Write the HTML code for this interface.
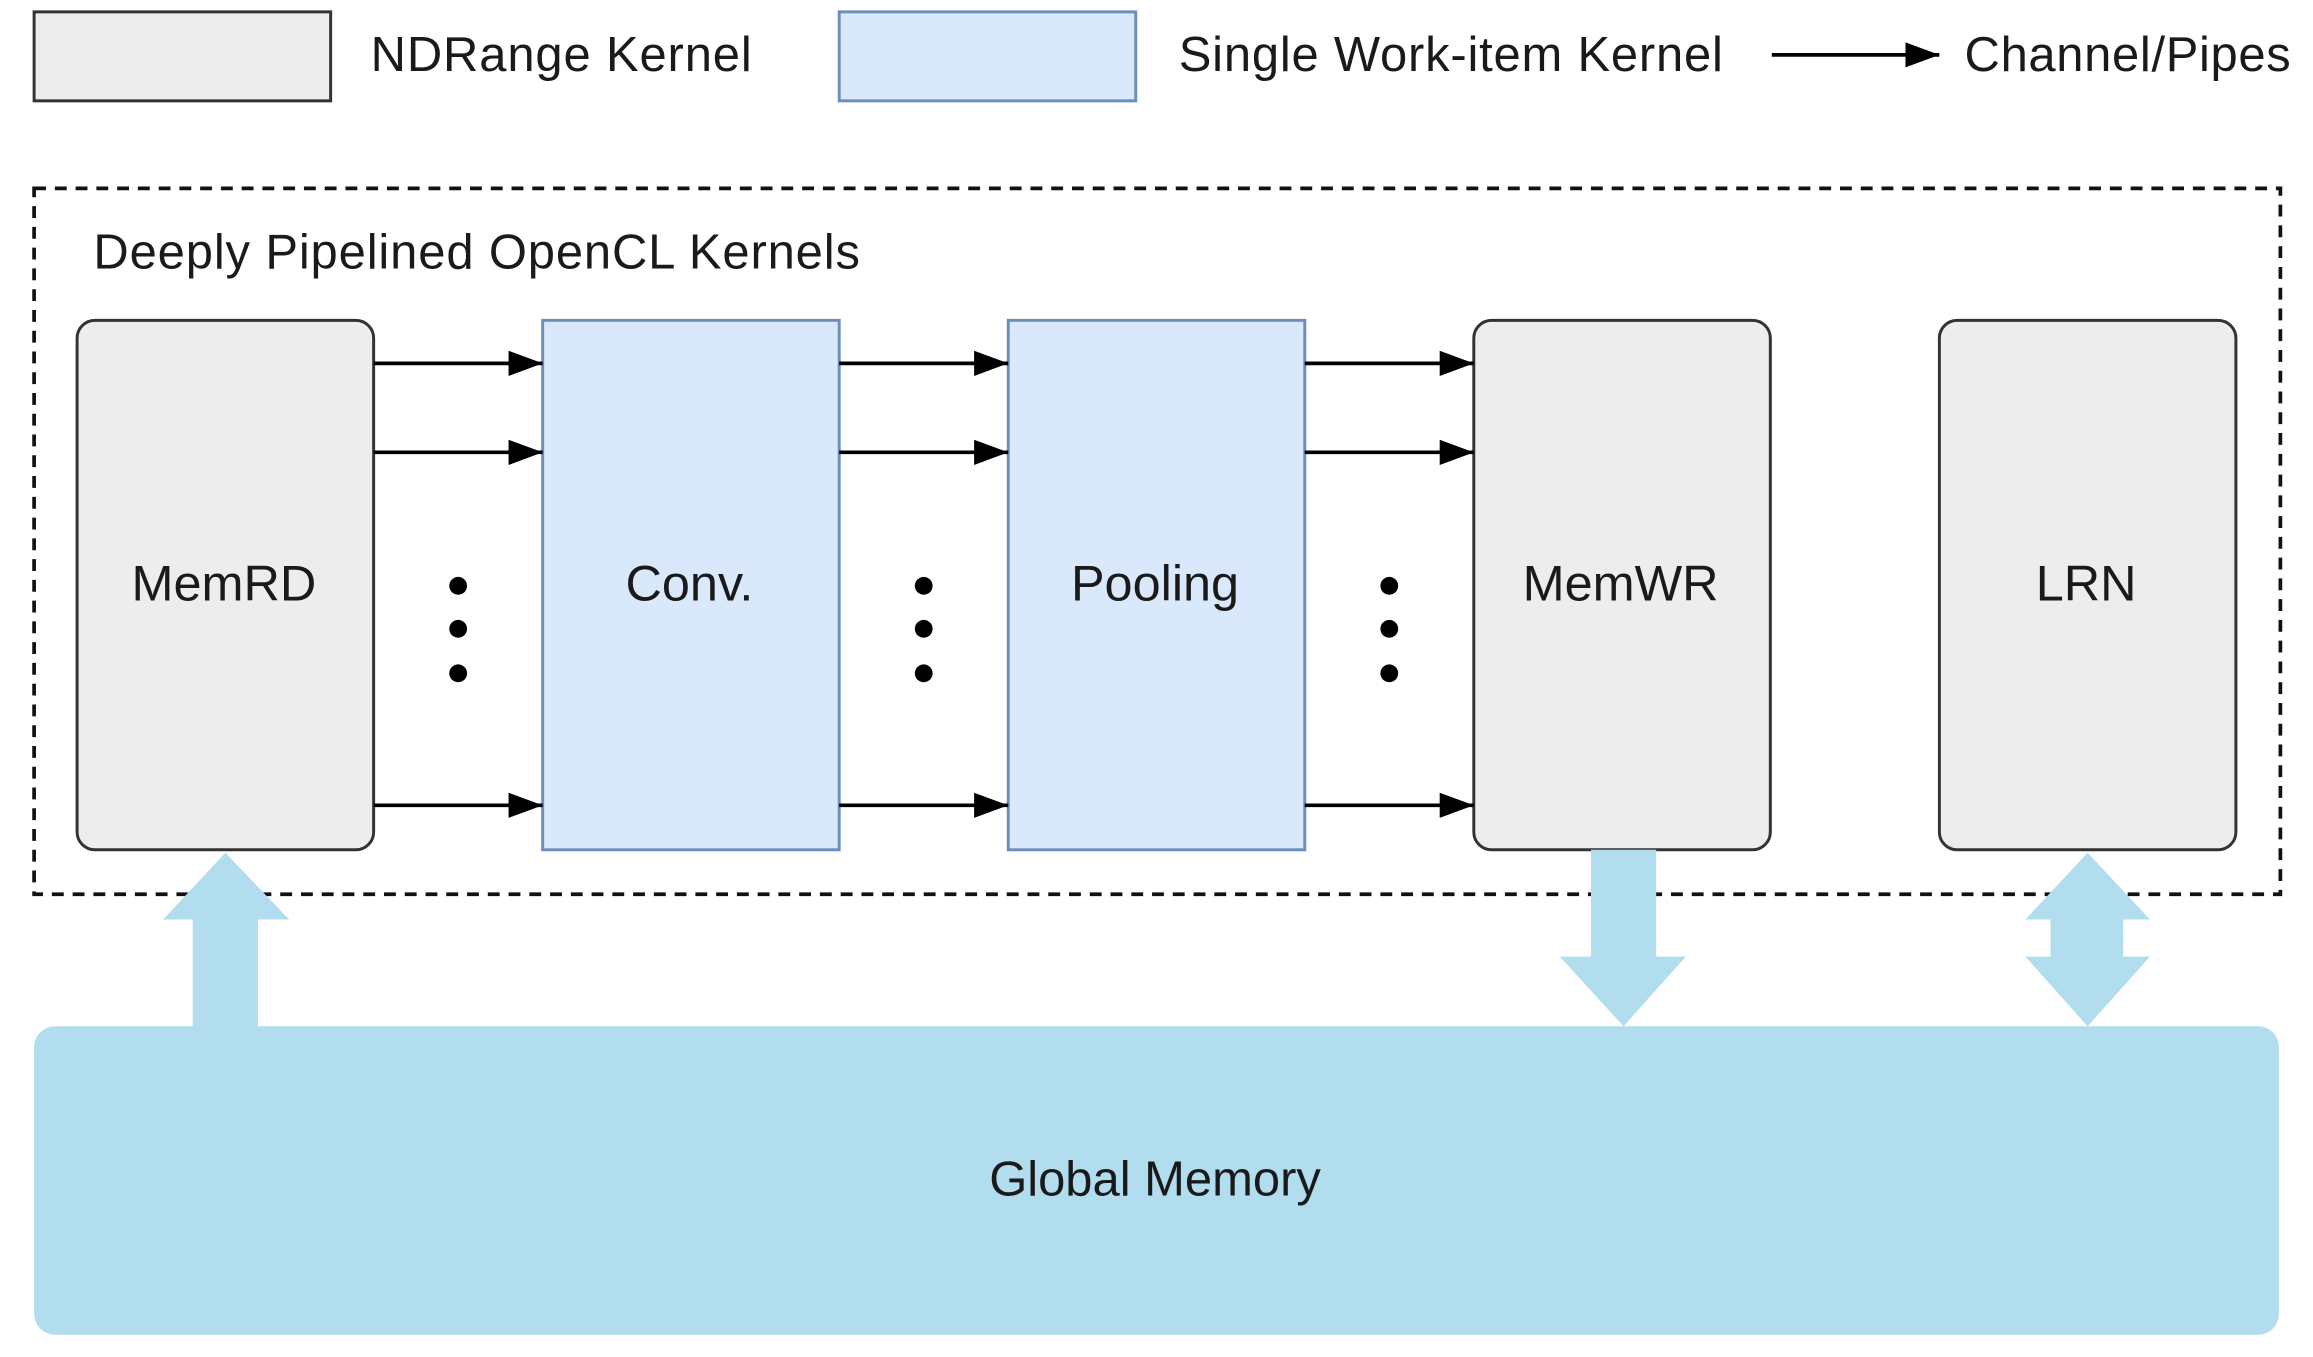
<!DOCTYPE html>
<html><head><meta charset="utf-8"><style>html,body{margin:0;padding:0;background:#fff}svg{display:block}</style></head>
<body>
<svg width="2313" height="1357" viewBox="0 0 1560 915" preserveAspectRatio="none" xmlns="http://www.w3.org/2000/svg" font-family="Liberation Sans, Arial, sans-serif" fill="#1a1a1a">
<defs><marker id="ah" viewBox="0 0 10 10" refX="10" refY="5" markerWidth="23" markerHeight="17" markerUnits="userSpaceOnUse" orient="auto" preserveAspectRatio="none"><path d="M0,0 L10,5 L0,10 z" fill="#000"/></marker></defs>
<!-- legend -->
<rect x="23" y="8" width="200" height="60" fill="#ededed" stroke="#333" stroke-width="2"/>
<text x="250" y="48" font-size="33" textLength="257">NDRange Kernel</text>
<rect x="566" y="8" width="200" height="60" fill="#dae8fc" stroke="#6c8ebf" stroke-width="2"/>
<text x="795" y="48" font-size="33" textLength="367">Single Work-item Kernel</text>
<line x1="1195" y1="37" x2="1308" y2="37" stroke="#000" stroke-width="2.5" marker-end="url(#ah)"/>
<text x="1325" y="48" font-size="33" textLength="220">Channel/Pipes</text>
<!-- dashed container -->
<rect x="23" y="127" width="1515" height="476" fill="none" stroke="#111" stroke-width="2.5" stroke-dasharray="8,6"/>
<text x="63" y="181" font-size="33" textLength="517">Deeply Pipelined OpenCL Kernels</text>
<!-- boxes -->
<rect x="52" y="216" width="200" height="357" rx="12" fill="#ededed" stroke="#333" stroke-width="2"/>
<rect x="366" y="216" width="200" height="357" fill="#dae8fc" stroke="#6c8ebf" stroke-width="2"/>
<rect x="680" y="216" width="200" height="357" fill="#dae8fc" stroke="#6c8ebf" stroke-width="2"/>
<rect x="994" y="216" width="200" height="357" rx="12" fill="#ededed" stroke="#333" stroke-width="2"/>
<rect x="1308" y="216" width="200" height="357" rx="12" fill="#ededed" stroke="#333" stroke-width="2"/>
<g font-size="34" text-anchor="middle">
<text x="151" y="405">MemRD</text>
<text x="465" y="405">Conv.</text>
<text x="779" y="405">Pooling</text>
<text x="1093" y="405">MemWR</text>
<text x="1407" y="405">LRN</text>
</g>
<!-- arrows -->
<g stroke="#000" stroke-width="2.5">
<line x1="252" y1="245" x2="366" y2="245" marker-end="url(#ah)"/>
<line x1="252" y1="305" x2="366" y2="305" marker-end="url(#ah)"/>
<line x1="252" y1="543" x2="366" y2="543" marker-end="url(#ah)"/>
<line x1="566" y1="245" x2="680" y2="245" marker-end="url(#ah)"/>
<line x1="566" y1="305" x2="680" y2="305" marker-end="url(#ah)"/>
<line x1="566" y1="543" x2="680" y2="543" marker-end="url(#ah)"/>
<line x1="880" y1="245" x2="994" y2="245" marker-end="url(#ah)"/>
<line x1="880" y1="305" x2="994" y2="305" marker-end="url(#ah)"/>
<line x1="880" y1="543" x2="994" y2="543" marker-end="url(#ah)"/>
</g>
<g fill="#000">
<circle cx="309" cy="395" r="6"/><circle cx="309" cy="424" r="6"/><circle cx="309" cy="454" r="6"/>
<circle cx="623" cy="395" r="6"/><circle cx="623" cy="424" r="6"/><circle cx="623" cy="454" r="6"/>
<circle cx="937" cy="395" r="6"/><circle cx="937" cy="424" r="6"/><circle cx="937" cy="454" r="6"/>
</g>
<!-- global memory -->
<rect x="23" y="692" width="1514" height="208" rx="14" fill="#b1ddef"/>
<text x="779" y="806" font-size="33" text-anchor="middle">Global Memory</text>
<!-- block arrows -->
<g fill="#b1ddef">
<path d="M130,693 L130,620 L110,620 L152,575 L195,620 L174,620 L174,693 z"/>
<path d="M1073,573 L1117,573 L1117,645 L1137,645 L1095,692 L1052,645 L1073,645 z"/>
<path d="M1408,575 L1450,620 L1432,620 L1432,645 L1450,645 L1408,692 L1366,645 L1383,645 L1383,620 L1366,620 z"/>
</g>
</svg>
</body></html>
